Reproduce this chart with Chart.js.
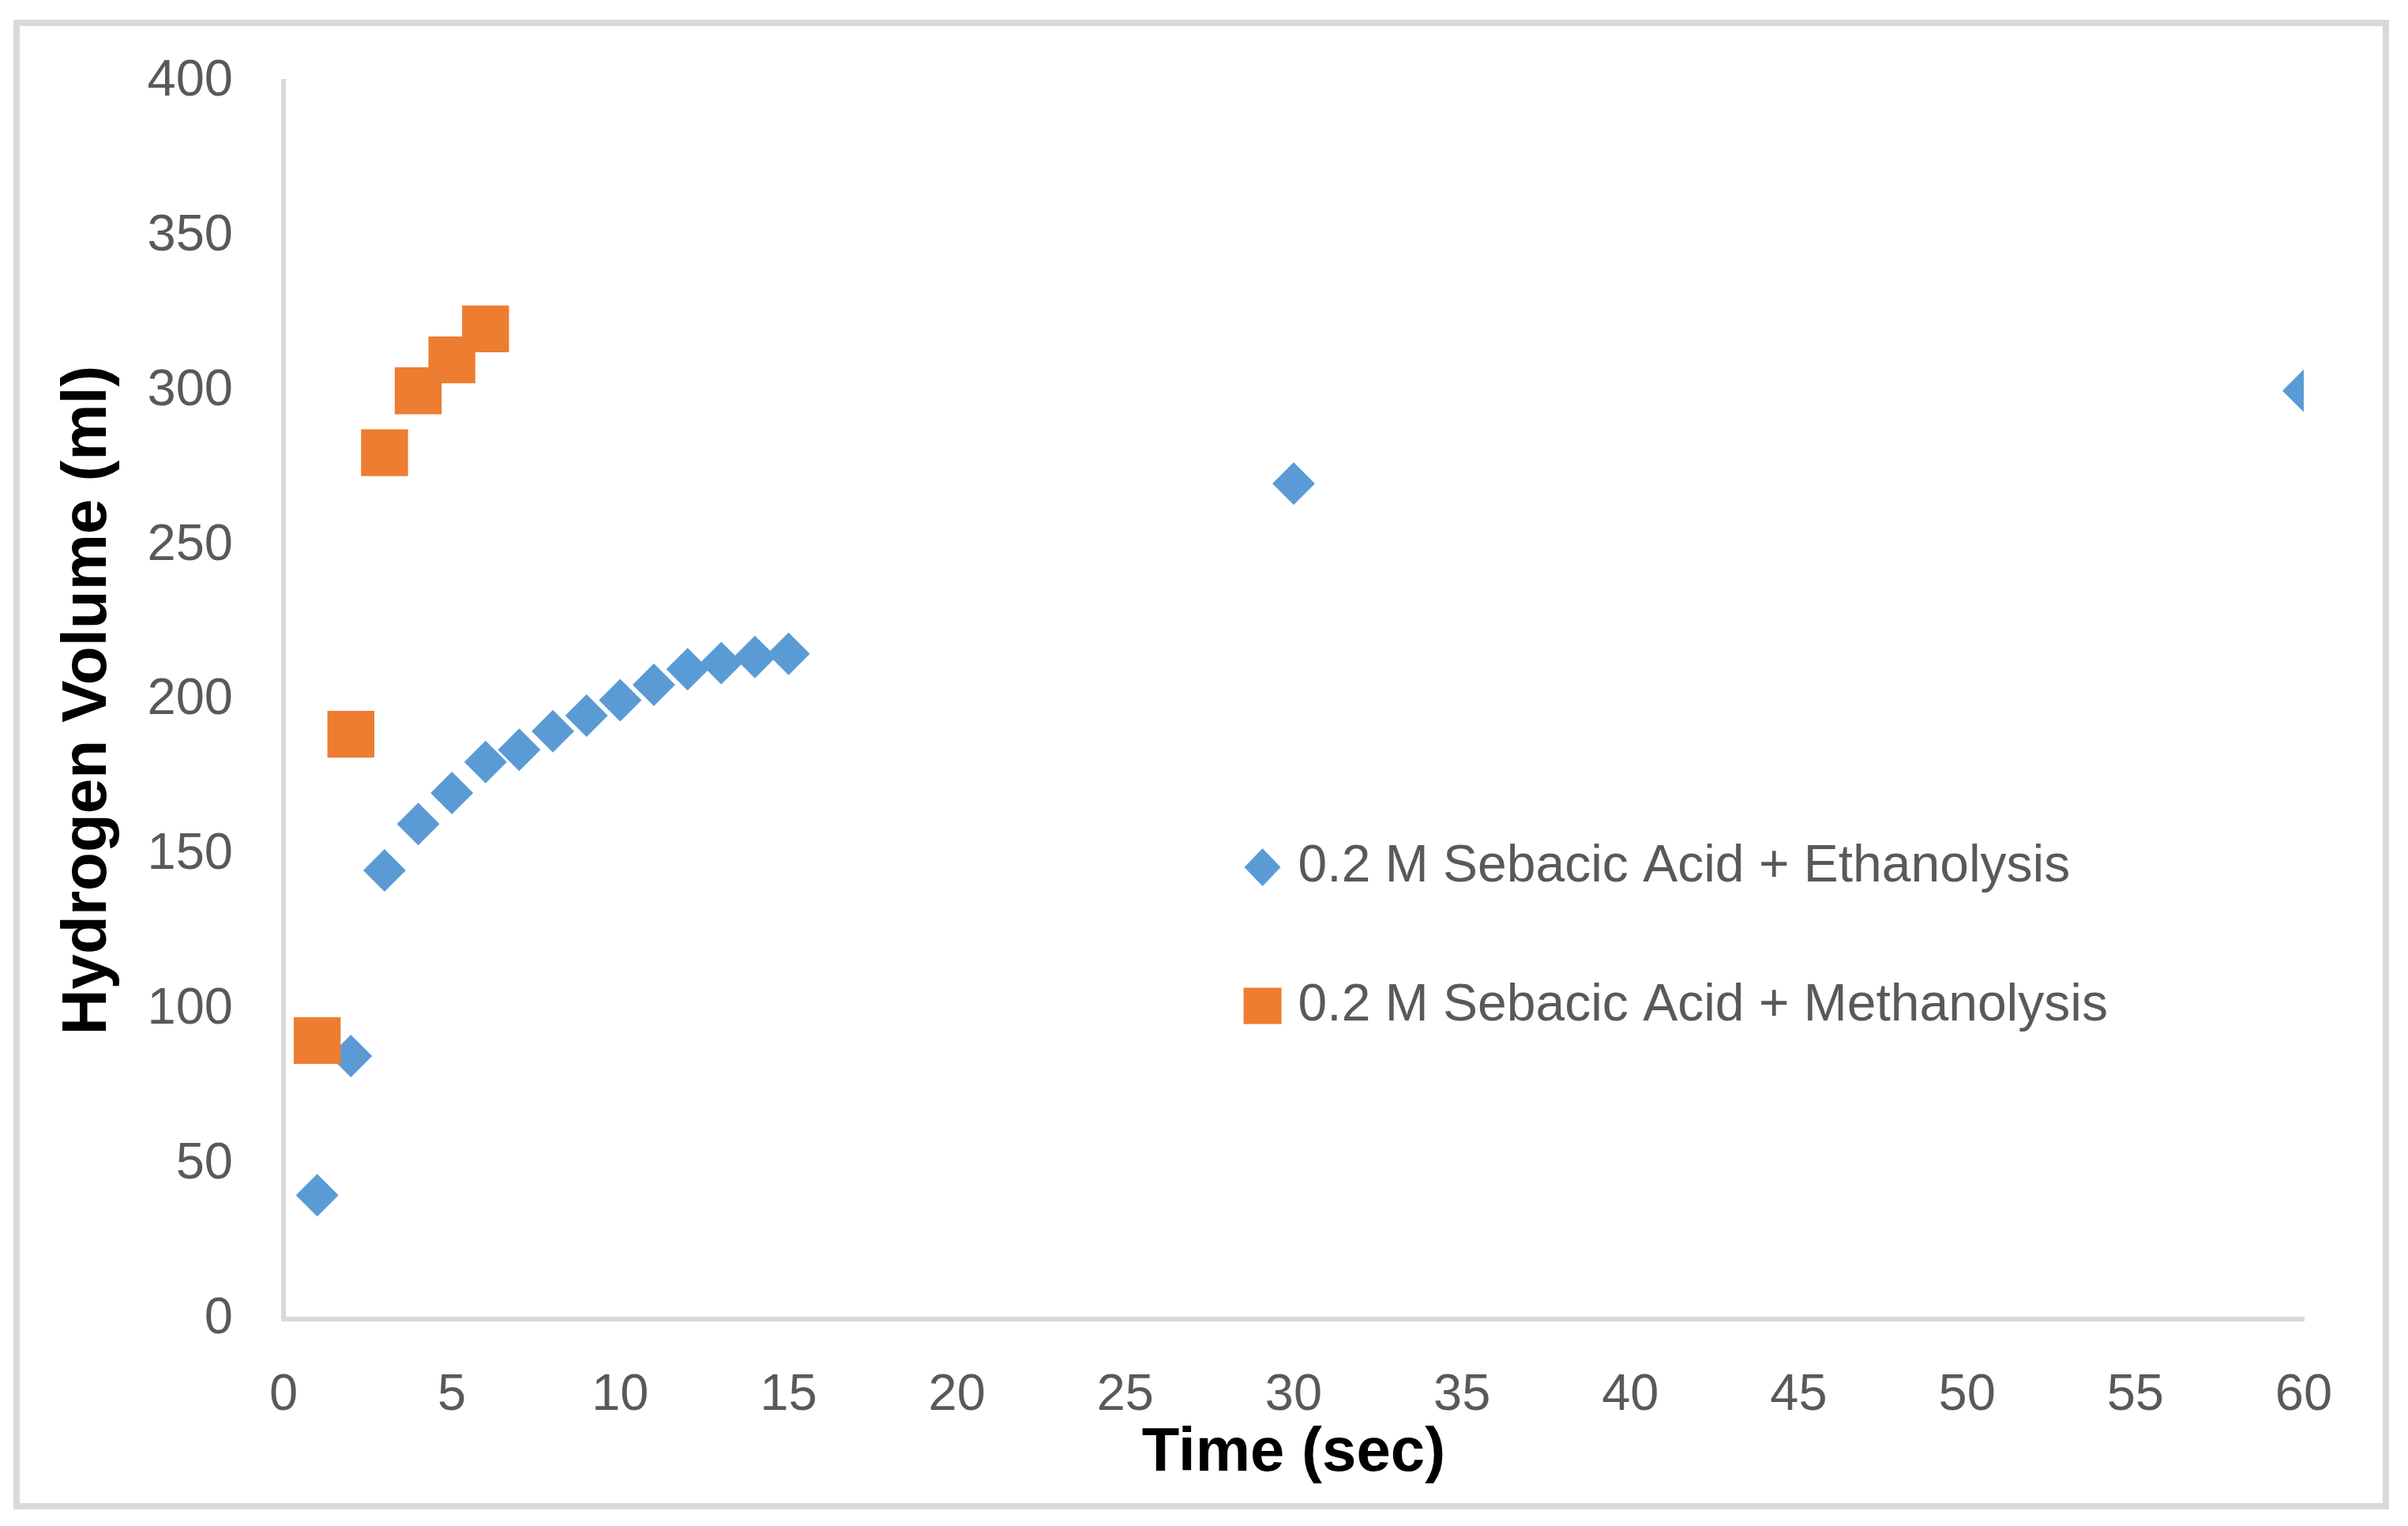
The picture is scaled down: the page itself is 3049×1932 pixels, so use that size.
<!DOCTYPE html>
<html>
<head>
<meta charset="utf-8">
<script src="https://cdn.jsdelivr.net/npm/chart.js@4.4.1/dist/chart.umd.min.js"></script>
<style>
  html, body { margin: 0; padding: 0; background: #fff; }
  #frame {
    position: absolute; left: 17px; top: 25px;
    width: 2992px; height: 1870px;
    border: 8px solid #d9d9d9;
  }
  #wrap { position: absolute; left: 0; top: 0; width: 3049px; height: 1932px; }
</style>
</head>
<body>
<div id="frame"></div>
<div id="wrap"><canvas id="chart" width="3049" height="1932"></canvas></div>
<script>
// Data
const ethLabel = '0.2 M Sebacic Acid + Ethanolysis';
const ethTime = [1, 2, 3, 4, 5, 6, 7, 8, 9, 10, 11, 12, 13, 14, 15, 30, 60];
const ethVolume = [40, 85, 145, 160, 170, 180, 184, 190, 195, 200, 205, 210, 212, 214, 215, 270, 300];

const methLabel = '0.2 M Sebacic Acid + Methanolysis';
const methTime = [1, 2, 3, 4, 5, 6];
const methVolume = [90, 189, 280, 300, 310, 320];

const xTitle = 'Time (sec)';
const yTitle = 'Hydrogen Volume (ml)';

const blue = '#5B9BD5';
const orange = '#ED7D31';
const tickColor = '#595959';
const axisColor = '#d9d9d9';
const FONT = "'Liberation Sans', Arial, sans-serif";

function toPoints(xs, ys) {
    return xs.map((x, i) => ({ x: x, y: ys[i] }));
}

// Legend drawn inside the plot area, like the Excel original
const insideLegend = {
    id: 'insideLegend',
    afterDraw(chart) {
        const ctx = chart.ctx;
        const area = chart.chartArea;
        const mx = area.left + area.width * 0.4846;
        const rows = [
            { y: area.top + area.height * 0.635, text: ethLabel, color: blue, shape: 'diamond' },
            { y: area.top + area.height * 0.747, text: methLabel, color: orange, shape: 'square' }
        ];
        ctx.save();
        rows.forEach(row => {
            ctx.fillStyle = row.color;
            ctx.beginPath();
            if (row.shape === 'diamond') {
                ctx.moveTo(mx - 23, row.y);
                ctx.lineTo(mx, row.y - 24);
                ctx.lineTo(mx + 23, row.y);
                ctx.lineTo(mx, row.y + 24);
                ctx.closePath();
            } else {
                ctx.rect(mx - 24, row.y - 23, 48, 46);
            }
            ctx.fill();
            ctx.fillStyle = tickColor;
            ctx.font = '66px ' + FONT;
            ctx.textAlign = 'left';
            ctx.textBaseline = 'middle';
            ctx.fillText(row.text, mx + 45, row.y);
        });
        ctx.restore();
    }
};

new Chart(document.getElementById('chart'), {
    type: 'scatter',
    data: {
        datasets: [{
            label: ethLabel,
            data: toPoints(ethTime, ethVolume),
            pointStyle: 'rectRot',
            pointRadius: 27,
            pointHoverRadius: 27,
            backgroundColor: blue,
            borderWidth: 0,
            order: 1
        }, {
            label: methLabel,
            data: toPoints(methTime, methVolume),
            pointStyle: 'rect',
            pointRadius: 42,
            pointHoverRadius: 42,
            backgroundColor: orange,
            borderWidth: 0,
            order: 0
        }]
    },
    options: {
        responsive: false,
        animation: false,
        layout: { padding: { top: 90, right: 132, left: 0, bottom: 0 } },
        scales: {
            x: {
                type: 'linear',
                min: 0,
                max: 60,
                ticks: {
                    stepSize: 5,
                    color: tickColor,
                    font: { family: FONT, size: 65 },
                    padding: 58,
                    maxRotation: 0
                },
                grid: { display: false, drawTicks: false },
                border: { display: true, color: axisColor, width: 6 },
                title: {
                    display: true,
                    text: xTitle,
                    color: '#000',
                    font: { family: FONT, size: 78, weight: 'bold' },
                    padding: { top: 0, bottom: 45 }
                },
                afterFit(scale) { scale.height = 262; }
            },
            y: {
                min: 0,
                max: 400,
                ticks: {
                    stepSize: 50,
                    color: tickColor,
                    font: { family: FONT, size: 65 },
                    padding: 64
                },
                grid: { display: false, drawTicks: false },
                border: { display: true, color: axisColor, width: 6 },
                title: {
                    display: true,
                    text: yTitle,
                    color: '#000',
                    font: { family: FONT, size: 80, weight: 'bold' },
                    padding: { top: 64, bottom: 0 }
                },
                afterFit(scale) { scale.width = 359; }
            }
        },
        plugins: {
            legend: { display: false },
            tooltip: { enabled: false }
        }
    },
    plugins: [insideLegend]
});
</script>
</body>
</html>
